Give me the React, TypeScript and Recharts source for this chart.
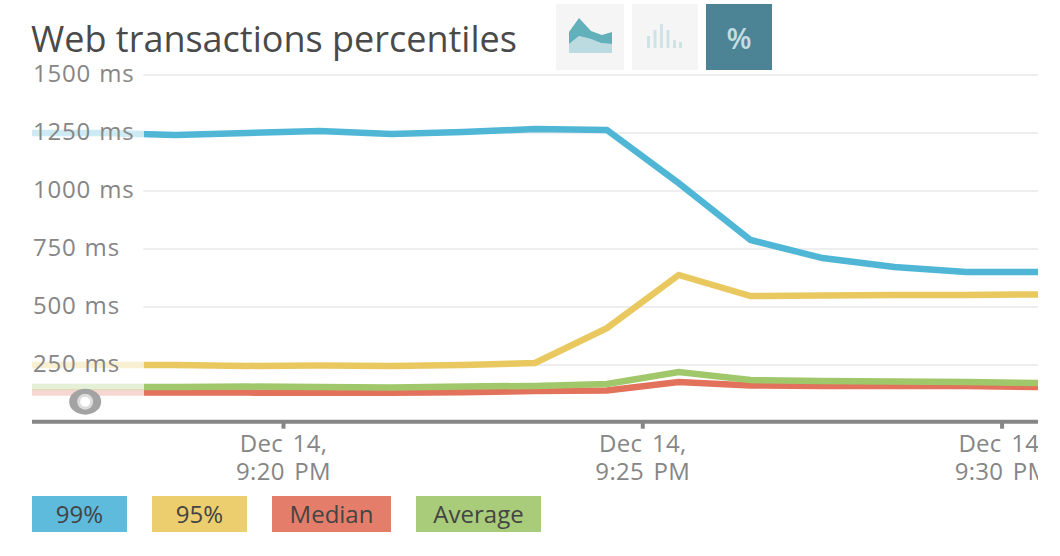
import { Line, LineChart, ReferenceDot, ReferenceLine, XAxis, YAxis } from "recharts";

const minutes = [-3.5, -2.5, -1.5, -0.5, 0.5, 1.5, 2.5, 3.5, 4.5, 5.5, 6.5, 7.5, 8.5, 9.5, 10.5];
const p99 = [1250, 1250, 1241, 1250, 1259, 1246, 1254, 1267, 1263, 1034, 789, 711, 672, 651, 651];
const p95 = [250, 250, 250, 246, 248, 246, 250, 259, 409, 638, 547, 550, 552, 552, 554];
const median = [131, 131, 131, 131, 130, 130, 133, 138, 140, 177, 162, 160, 160, 160, 155];
const average = [155, 155, 155, 157, 155, 153, 157, 160, 168, 220, 185, 181, 179, 177, 172];

const yTicks = [250, 500, 750, 1000, 1250, 1500];
const xTicks = [0, 5, 10];
const dateLabels = ["Dec 14,", "Dec 14,", "Dec 14,"];
const timeLabels = ["9:20 PM", "9:25 PM", "9:30 PM"];

const seriesNames = ["99%", "95%", "Median", "Average"];
const legendColors = ["#5fbbdc", "#ecce6e", "#e47e6a", "#a9cc7a"];
const legendWidths = [95, 95, 119, 125];

const data = minutes.map((minute, i) => ({
  minute,
  p99: p99[i],
  p95: p95[i],
  median: median[i],
  average: average[i]
}));

const FONT = "'Open Sans', sans-serif";
const GRID_START = -1.95;

const fadedStroke = (id: string, color: string) => (
  <linearGradient id={id} x1="0" y1="0" x2="1" y2="0">
    <stop offset="0.111" stopColor={color} stopOpacity={0.28} />
    <stop offset="0.111" stopColor={color} stopOpacity={1} />
  </linearGradient>
);

const YTick = ({ x, y, payload }: any) => (
  <text x={x + 1} y={y + 7} textAnchor="start" fontFamily={FONT} fontSize={24} fill="#868686" letterSpacing={0.8} wordSpacing={1}>
    {payload.value} ms
  </text>
);

const XTick = ({ x, y, payload }: any) => {
  const i = xTicks.indexOf(payload.value);
  return (
    <text textAnchor="middle" fontFamily={FONT} fontSize={24} fill="#868686" letterSpacing={0.3} wordSpacing={3}>
      <tspan x={x} y={y + 21}>{dateLabels[i]}</tspan>
      <tspan x={x} y={y + 49}>{timeLabels[i]}</tspan>
    </text>
  );
};

const EyeHandle = ({ cx, cy }: any) => (
  <g>
    <ellipse cx={cx} cy={cy} rx={16} ry={13} fill="#a3a3a3" />
    <circle cx={cx} cy={cy} r={8} fill="#dcdcdc" />
    <circle cx={cx} cy={cy} r={5} fill="#ffffff" />
  </g>
);

const buttonStyle = (left: number, width: number, background: string): React.CSSProperties => ({
  position: "absolute",
  left,
  top: 4,
  width,
  height: 66,
  background
});

export default function App() {
  return (
    <div style={{ position: "absolute", left: 0, top: 0, width: 1060, height: 556, background: "#fff", overflow: "hidden" }}>
      <div style={{ position: "absolute", left: 31, top: 14, fontFamily: FONT, fontSize: 36, color: "#4a4a4a", whiteSpace: "nowrap" }}>
        Web transactions percentiles
      </div>

      <div style={buttonStyle(556, 68, "#f5f5f5")}>
        <svg width={68} height={66}>
          <path d="M13 40 L23 32 L35 35 L45 39 L56 40 L56 49 L13 49 Z" fill="#bcdbe0" />
          <path d="M13 28 L23 14 L35 27 L46 31 L56 28 L56 40 L45 39 L35 35 L23 32 L13 40 Z" fill="#62b0ba" />
        </svg>
      </div>
      <div style={buttonStyle(632, 66, "#f5f5f5")}>
        <svg width={66} height={66}>
          <g fill="#cfe3e6">
            <rect x={15} y={32} width={3} height={12} />
            <rect x={21.5} y={26} width={3} height={18} />
            <rect x={28} y={20} width={3} height={24} />
            <rect x={34.5} y={26} width={3} height={18} />
            <rect x={41} y={36} width={3} height={8} />
            <rect x={47} y={38} width={3} height={6} />
          </g>
        </svg>
      </div>
      <div
        style={{
          ...buttonStyle(706, 66, "#4c8496"),
          color: "#c4dde3",
          fontFamily: FONT,
          fontSize: 29,
          fontWeight: 600,
          lineHeight: "68px",
          textAlign: "center"
        }}
      >
        %
      </div>

      <LineChart width={1038} height={556} data={data} margin={{ top: 75, right: 0, bottom: 0, left: 32 }}>
        <defs>
          {fadedStroke("fade99", "#4fb6d6")}
          {fadedStroke("fade95", "#e9c95f")}
          {fadedStroke("fadeMedian", "#e2725b")}
          {fadedStroke("fadeAverage", "#a0c86a")}
        </defs>
        <XAxis
          dataKey="minute"
          type="number"
          domain={[-3.5, 10.5]}
          ticks={xTicks}
          interval={0}
          height={134.3}
          tick={<XTick />}
          tickSize={7}
          axisLine={{ stroke: "#868686", strokeWidth: 4 }}
          tickLine={{ stroke: "#868686", strokeWidth: 4 }}
        />
        <YAxis
          type="number"
          mirror
          domain={[5.6, 1500]}
          ticks={yTicks}
          interval={0}
          tick={<YTick />}
          tickLine={false}
          axisLine={false}
          tickMargin={0}
          tickSize={0}
        />
        {yTicks.map((value) => (
          <ReferenceLine
            key={value}
            segment={[
              { x: GRID_START, y: value },
              { x: 10.5, y: value }
            ]}
            stroke="#eeeeee"
            strokeWidth={2}
          />
        ))}
        <Line dataKey="p99" name={seriesNames[0]} stroke="url(#fade99)" strokeWidth={6.5} dot={false} type="linear" isAnimationActive={false} />
        <Line dataKey="p95" name={seriesNames[1]} stroke="url(#fade95)" strokeWidth={6.5} dot={false} type="linear" isAnimationActive={false} />
        <Line dataKey="median" name={seriesNames[2]} stroke="url(#fadeMedian)" strokeWidth={6.5} dot={false} type="linear" isAnimationActive={false} />
        <Line dataKey="average" name={seriesNames[3]} stroke="url(#fadeAverage)" strokeWidth={6.5} dot={false} type="linear" isAnimationActive={false} />
        <ReferenceDot x={-2.76} y={92} shape={<EyeHandle />} />
      </LineChart>

      <div style={{ position: "absolute", left: 32, top: 496, display: "flex", gap: 25 }}>
        {seriesNames.map((name, i) => (
          <div
            key={name}
            style={{
              width: legendWidths[i],
              height: 36,
              background: legendColors[i],
              color: "#444",
              fontFamily: FONT,
              fontSize: 24,
              lineHeight: "36px",
              textAlign: "center"
            }}
          >
            {name}
          </div>
        ))}
      </div>
    </div>
  );
}
